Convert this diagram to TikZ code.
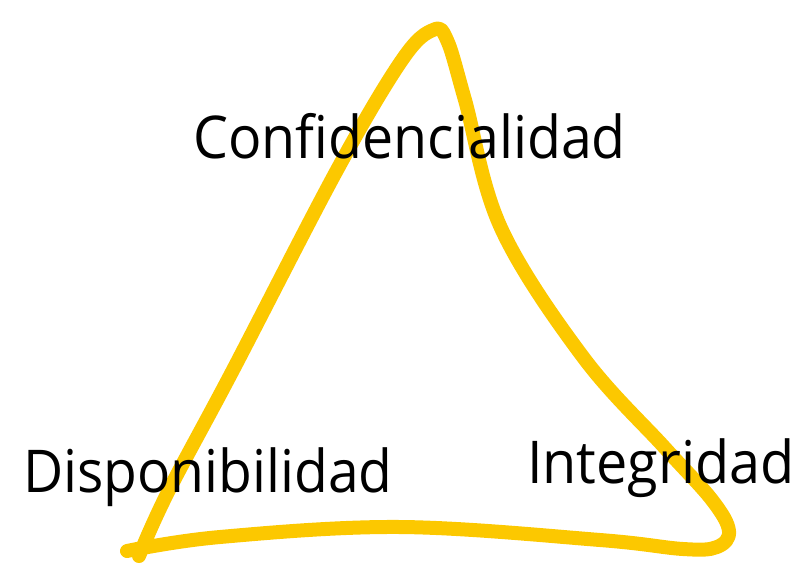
\documentclass[tikz,border=0pt]{standalone}
\usepackage{fontspec}
\setmainfont{Open Sans}
\definecolor{goldstroke}{RGB}{252,200,0}
\begin{document}
\begin{tikzpicture}[x=1pt,y=-1pt,
  label/.style={font=\fontsize{59}{59}\selectfont, inner sep=0pt, anchor=base west, text=black},
  pen/.style={draw=goldstroke, line width=14pt, line cap=round, line join=round}]
\useasboundingbox (0,0) rectangle (811,586);
\draw[pen] plot[smooth, tension=0.6] coordinates {
  (139,556) (168,492) (233,370) (337,170)
  (402,60) (433,30) (447,40) (465,100)
  (501,228) (583,357) (665,448) (712,500) (729,531) (717,547)
  (683,549) (600,540) (400,527) (220,537) (127,551)};
\node[label] (conf) at (193,158) {\scalebox{0.94}[1]{Confidencialidad}};
\node[label] (disp) at (23,492) {\scalebox{0.935}[1]{Disponibilidad}};
\node[label] (integ) at (527,483) {\scalebox{0.945}[1]{Integridad}};
\end{tikzpicture}
\end{document}
